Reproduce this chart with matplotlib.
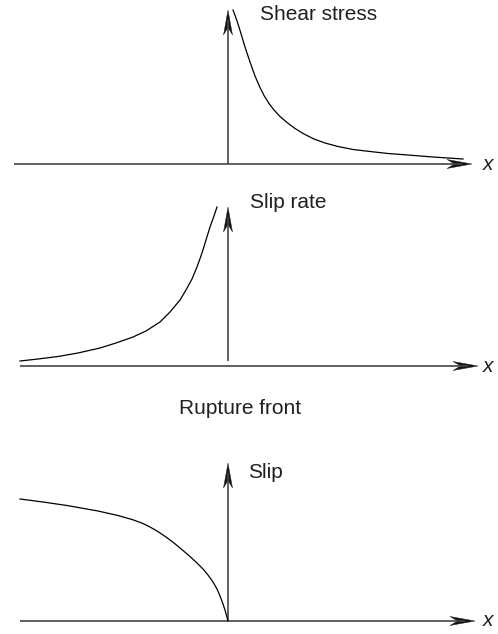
import matplotlib
matplotlib.use("Agg")
import matplotlib.pyplot as plt
from matplotlib.patches import Polygon
import numpy as np

# ---- data (distance from rupture front, value), arbitrary units ----
shear_x = [0.05, 0.08, 0.11, 0.14, 0.17, 0.22, 0.27, 0.32, 0.36, 0.41, 0.46, 0.52,
           0.59, 0.67, 0.76, 0.86, 0.97, 1.10, 1.25, 1.42, 1.60, 1.80, 2.05, 2.35]
shear_y = [1.54, 1.46, 1.37, 1.27, 1.17, 1.02, 0.88, 0.765, 0.685, 0.605, 0.54, 0.475,
           0.415, 0.355, 0.30, 0.25, 0.21, 0.175, 0.145, 0.125, 0.105, 0.09, 0.07, 0.05]

rate_x = [-2.08, -1.90, -1.70, -1.50, -1.28, -1.12, -0.95, -0.82, -0.68, -0.58,
          -0.48, -0.42, -0.36, -0.31, -0.26, -0.22, -0.18, -0.14, -0.11]
rate_y = [0.05, 0.07, 0.095, 0.13, 0.18, 0.23, 0.29, 0.35, 0.44, 0.54,
          0.66, 0.76, 0.87, 0.99, 1.13, 1.26, 1.39, 1.50, 1.59]

slip_x = [-2.08, -1.85, -1.61, -1.30, -1.10, -0.95, -0.85, -0.78, -0.71, -0.62,
          -0.54, -0.45, -0.38, -0.31, -0.25, -0.20, -0.15, -0.11, -0.08, -0.05,
          -0.03, -0.015, 0.0]
slip_y = [1.22, 1.19, 1.155, 1.10, 1.055, 1.012, 0.975, 0.94, 0.90, 0.84,
          0.78, 0.705, 0.645, 0.58, 0.52, 0.46, 0.39, 0.32, 0.25, 0.17,
          0.11, 0.055, 0.0]

panel_labels = ["Shear stress", "Slip rate", "Slip"]
front_label = "Rupture front"
axis_label = "x"

TXT = "#231f20"
AX = "#444444"
FONT = ["Liberation Sans", "DejaVu Sans"]
FS = 15

W, H = 498, 634
fig = plt.figure(figsize=(W / 100, H / 100), dpi=100)


def make_axes(bottom_px, top_px, origin_px_from_top):
    ax = fig.add_axes([0, bottom_px / H, 1, (top_px - bottom_px) / H])
    ob = H - origin_px_from_top
    ax.set_xlim(-2.28, (W - 228) / 100)
    ax.set_ylim((bottom_px - ob) / 100, (top_px - ob) / 100)
    ax.axis("off")
    return ax


def arrow(ax, x0, y0, x1, y1, L=0.25, Wd=0.09):
    d = np.array([x1 - x0, y1 - y0], float)
    d /= np.hypot(*d)
    ax.plot([x0, x1 - 0.1 * d[0]], [y0, y1 - 0.1 * d[1]], color=AX, lw=1.2,
            solid_capstyle="butt")
    p = np.array([-d[1], d[0]])
    tip = np.array([x1, y1])
    base = tip - L * d
    notch = tip - 0.7 * L * d
    pts = [tip, base + p * Wd / 2, notch, base - p * Wd / 2]
    ax.add_patch(Polygon(pts, closed=True, facecolor="#151515", edgecolor="#151515",
                         lw=0.3, joinstyle="miter"))


def curve(ax, xs, ys):
    ax.plot(xs, ys, color="black", lw=0.9, solid_joinstyle="round")


# Panel 1: shear stress
ax1 = make_axes(450, 634, 164)
arrow(ax1, -2.14, 0, 2.44, 0)
arrow(ax1, 0, 0, 0, 1.54)
curve(ax1, shear_x, shear_y)
ax1.text(0.32, 1.49, panel_labels[0], fontsize=FS, color=TXT, family=FONT,
         ha="left", va="center")
ax1.text(2.60, 0.0, axis_label, fontsize=FS, color=TXT, family=FONT,
         style="italic", ha="center", va="center")

# Panel 2: slip rate
ax2 = make_axes(200, 450, 366)
arrow(ax2, -2.08, 0, 2.50, 0)
arrow(ax2, 0, 0.05, 0, 1.59)
curve(ax2, rate_x, rate_y)
ax2.text(0.22, 1.63, panel_labels[1], fontsize=FS, color=TXT, family=FONT,
         ha="left", va="center")
ax2.text(2.60, 0.0, axis_label, fontsize=FS, color=TXT, family=FONT,
         style="italic", ha="center", va="center")
ax2.text(0.12, -0.42, front_label, fontsize=FS, color=TXT, family=FONT,
         ha="center", va="center")

# Panel 3: slip
ax3 = make_axes(0, 200, 621)
arrow(ax3, -2.08, 0, 2.47, 0)
arrow(ax3, 0, 0, 0, 1.58)
curve(ax3, slip_x, slip_y)
ax3.text(0.20, 1.49, panel_labels[2], fontsize=FS, color=TXT, family=FONT,
         ha="left", va="center")
ax3.text(2.60, 0.0, axis_label, fontsize=FS, color=TXT, family=FONT,
         style="italic", ha="center", va="center")

fig.savefig("out.png", dpi=100, facecolor="white")
